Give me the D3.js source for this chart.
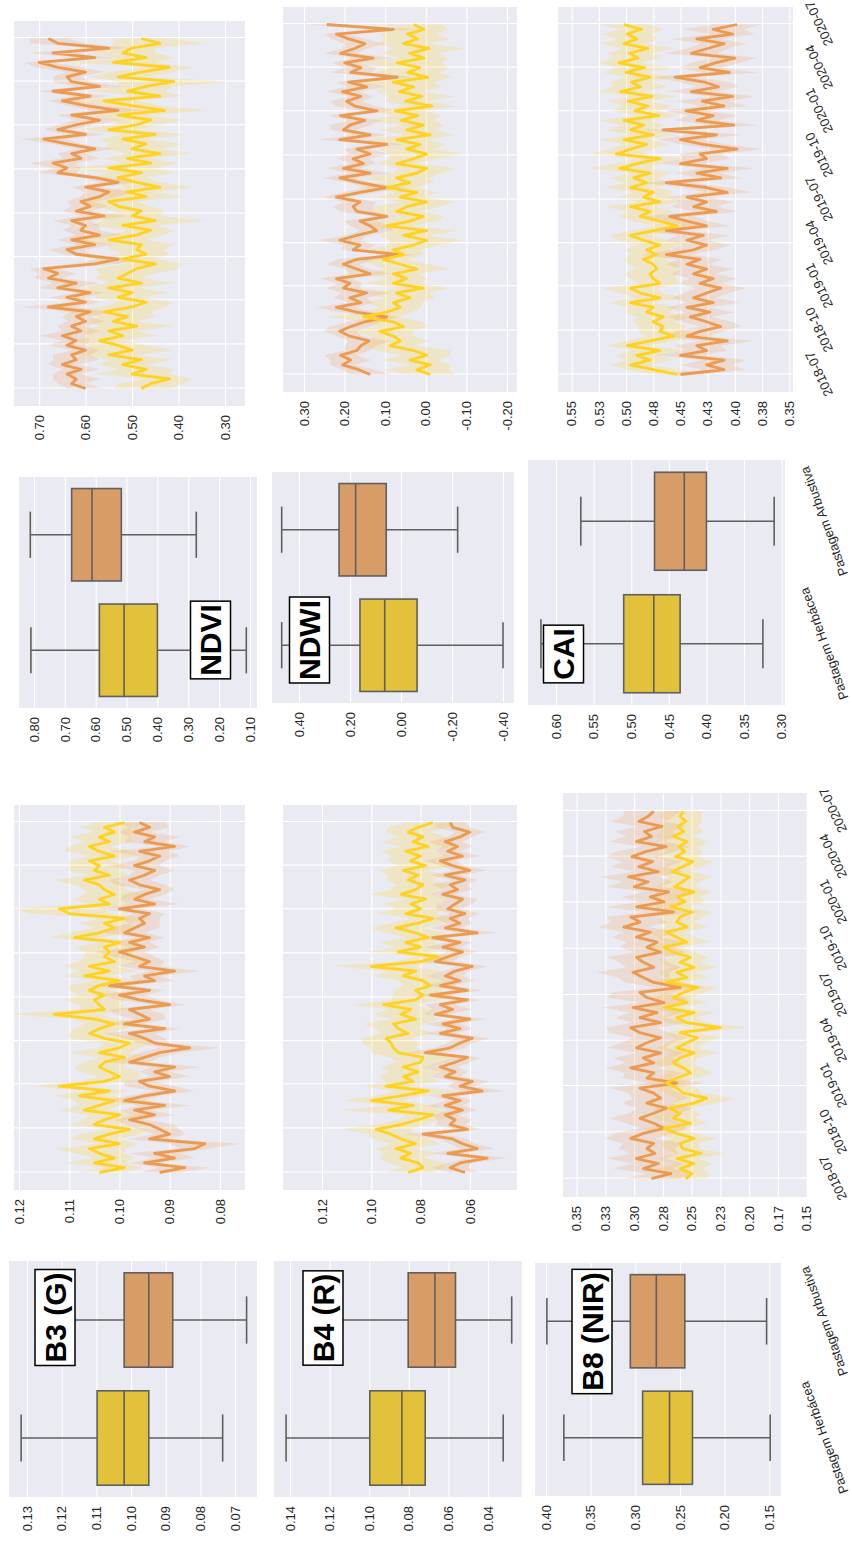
<!DOCTYPE html>
<html><head><meta charset="utf-8">
<script src="https://cdn.jsdelivr.net/npm/d3@7"></script>
<style>body{margin:0;background:#fff;}svg{display:block;}text{font-family:"Liberation Sans",Arial,Helvetica,sans-serif;}</style>
</head><body><svg id="chart" width="852" height="1543"></svg>
<script>
// ---------- DATA ----------
const categories = ["Pastagem Herbácea", "Pastagem Arbustiva"];
const seriesStart = "2018-07-01";
const seriesStepDays = 10;
const dateTicks = ["2018-07","2018-10","2019-01","2019-04","2019-07","2019-10","2020-01","2020-04","2020-07"];

// box stats: [lower whisker, Q1, median, Q3, upper whisker]
const b3BoxHerb = [0.0736, 0.0949, 0.1020, 0.1098, 0.1317];
const b3BoxArb  = [0.0667, 0.0880, 0.0949, 0.1020, 0.1170];
const b4BoxHerb = [0.0323, 0.0717, 0.0835, 0.0997, 0.1420];
const b4BoxArb  = [0.0280, 0.0564, 0.0668, 0.0803, 0.1200];
const b8BoxHerb = [0.149, 0.236, 0.2617, 0.2918, 0.380];
const b8BoxArb  = [0.153, 0.2446, 0.2765, 0.3056, 0.399];
const ndviBoxHerb = [0.112, 0.400, 0.508, 0.588, 0.810];
const ndviBoxArb  = [0.274, 0.517, 0.612, 0.678, 0.812];
const ndwiBoxHerb = [-0.400, -0.063, 0.064, 0.161, 0.468];
const ndwiBoxArb  = [-0.222, 0.058, 0.178, 0.243, 0.468];
const caiBoxHerb = [0.325, 0.435, 0.470, 0.510, 0.620];
const caiBoxArb  = [0.310, 0.400, 0.4295, 0.469, 0.567];

// time series means (Herbácea = yellow, Arbustiva = orange) and CI half-widths
const b3Herb = [0.104,0.099,0.105,0.101,0.104,0.106,0.100,0.105,0.102,0.098, 0.105,0.103,0.100,0.107,0.104,0.101,0.108,0.102,0.112,0.103, 0.100,0.102,0.104,0.103,0.099,0.104,0.100,0.098,0.103,0.106, 0.104,0.101,0.105,0.113,0.103,0.104,0.105,0.103,0.106,0.104, 0.100,0.107,0.102,0.106,0.101,0.103,0.102,0.103,0.100,0.109, 0.104,0.101,0.103,0.099,0.110,0.112,0.102,0.104,0.101,0.103, 0.104,0.107,0.102,0.105,0.104,0.106,0.101,0.104,0.106,0.102, 0.104,0.101,0.103,0.099];
const b3Arb = [0.092,0.087,0.095,0.089,0.093,0.085,0.083,0.094,0.090,0.092, 0.094,0.098,0.093,0.097,0.091,0.099,0.095,0.089,0.094,0.096, 0.090,0.093,0.089,0.098,0.095,0.092,0.086,0.093,0.095,0.098, 0.091,0.099,0.094,0.096,0.098,0.090,0.096,0.100,0.094,0.102, 0.093,0.095,0.089,0.096,0.094,0.097,0.100,0.095,0.098,0.094, 0.099,0.097,0.095,0.096,0.094,0.100,0.093,0.097,0.095,0.092, 0.096,0.098,0.095,0.093,0.097,0.094,0.092,0.096,0.089,0.095, 0.093,0.097,0.094,0.096];
const b3HerbCI = [0.005,0.004,0.006,0.004,0.005,0.007,0.004,0.005,0.006,0.004, 0.005,0.004,0.006,0.005,0.004,0.008,0.005,0.004,0.006,0.005, 0.004,0.006,0.005,0.004,0.005,0.006,0.004,0.005,0.007,0.004, 0.005,0.006,0.004,0.009,0.005,0.004,0.006,0.005,0.004,0.006, 0.005,0.004,0.006,0.005,0.007,0.004,0.005,0.006,0.004,0.005, 0.006,0.004,0.005,0.005,0.008,0.009,0.004,0.005,0.006,0.004, 0.005,0.006,0.004,0.005,0.006,0.004,0.005,0.007,0.004,0.005, 0.006,0.004,0.005,0.006];
const b3ArbCI = [0.004,0.005,0.003,0.004,0.005,0.003,0.007,0.004,0.003,0.004, 0.005,0.003,0.004,0.003,0.005,0.004,0.003,0.004,0.005,0.003, 0.004,0.003,0.005,0.004,0.003,0.004,0.006,0.003,0.004,0.005, 0.003,0.004,0.003,0.005,0.004,0.003,0.004,0.005,0.003,0.004, 0.004,0.003,0.005,0.004,0.003,0.004,0.005,0.003,0.004,0.003, 0.004,0.005,0.003,0.004,0.003,0.004,0.005,0.003,0.004,0.003, 0.005,0.004,0.003,0.004,0.005,0.003,0.004,0.006,0.003,0.004, 0.005,0.003,0.004,0.005];

const b4Herb = [0.085,0.079,0.081,0.088,0.084,0.090,0.082,0.088,0.092,0.098, 0.088,0.081,0.075,0.093,0.083,0.100,0.088,0.077,0.094,0.083, 0.087,0.081,0.087,0.080,0.079,0.089,0.091,0.092,0.094,0.085, 0.089,0.091,0.082,0.088,0.084,0.095,0.082,0.079,0.082,0.076, 0.079,0.087,0.082,0.100,0.080,0.073,0.089,0.080,0.086,0.077, 0.082,0.090,0.081,0.075,0.086,0.080,0.084,0.078,0.088,0.082, 0.079,0.085,0.081,0.087,0.078,0.084,0.080,0.086,0.077,0.083, 0.079,0.085,0.081,0.075];
const b4Arb = [0.062,0.068,0.064,0.053,0.069,0.057,0.063,0.067,0.079,0.061, 0.068,0.066,0.070,0.063,0.070,0.064,0.071,0.055,0.064,0.059, 0.070,0.066,0.072,0.066,0.061,0.078,0.068,0.064,0.059,0.072, 0.064,0.071,0.060,0.074,0.067,0.072,0.061,0.076,0.061,0.072, 0.064,0.070,0.066,0.059,0.074,0.069,0.063,0.071,0.064,0.075, 0.057,0.070,0.064,0.068,0.062,0.069,0.066,0.063,0.071,0.065, 0.068,0.062,0.070,0.060,0.067,0.072,0.063,0.069,0.065,0.070, 0.064,0.060,0.067,0.068];
const b4HerbCI = [0.010,0.008,0.012,0.009,0.011,0.008,0.010,0.012,0.009,0.014, 0.010,0.008,0.011,0.020,0.009,0.012,0.010,0.013,0.009,0.011, 0.010,0.012,0.009,0.010,0.013,0.011,0.009,0.012,0.010,0.011, 0.009,0.012,0.010,0.011,0.009,0.013,0.010,0.012,0.009,0.011, 0.010,0.012,0.011,0.016,0.010,0.009,0.012,0.010,0.011,0.009, 0.012,0.010,0.011,0.009,0.012,0.010,0.011,0.009,0.013,0.010, 0.011,0.009,0.012,0.010,0.011,0.009,0.012,0.010,0.011,0.013, 0.010,0.009,0.012,0.010];
const b4ArbCI = [0.006,0.007,0.005,0.008,0.006,0.007,0.005,0.006,0.008,0.005, 0.006,0.007,0.005,0.006,0.007,0.005,0.006,0.009,0.005,0.007, 0.006,0.005,0.007,0.006,0.005,0.008,0.006,0.005,0.007,0.006, 0.005,0.007,0.006,0.005,0.008,0.006,0.005,0.007,0.006,0.005, 0.006,0.007,0.005,0.006,0.007,0.005,0.006,0.007,0.005,0.006, 0.008,0.006,0.005,0.007,0.006,0.005,0.007,0.006,0.005,0.006, 0.007,0.005,0.006,0.007,0.005,0.006,0.007,0.005,0.006,0.007, 0.005,0.006,0.007,0.006];

const b8Herb = [0.255,0.250,0.260,0.248,0.263,0.242,0.258,0.260,0.248,0.263, 0.274,0.251,0.266,0.260,0.269,0.248,0.237,0.257,0.263,0.272, 0.263,0.251,0.257,0.266,0.260,0.248,0.263,0.254,0.245,0.260, 0.225,0.254,0.263,0.248,0.274,0.254,0.266,0.257,0.245,0.272, 0.254,0.263,0.248,0.260,0.251,0.266,0.274,0.254,0.263,0.272, 0.254,0.263,0.260,0.250,0.268,0.256,0.262,0.248,0.265,0.258, 0.252,0.267,0.258,0.249,0.264,0.256,0.261,0.254,0.266,0.257, 0.262,0.255,0.260,0.257];
const b8Arb = [0.285,0.268,0.292,0.279,0.298,0.282,0.289,0.283,0.303,0.292, 0.274,0.283,0.295,0.283,0.272,0.289,0.277,0.283,0.295,0.263, 0.289,0.283,0.303,0.283,0.292,0.277,0.298,0.289,0.277,0.295, 0.303,0.277,0.295,0.280,0.301,0.274,0.289,0.295,0.260,0.283, 0.292,0.301,0.283,0.292,0.298,0.277,0.289,0.280,0.298,0.286, 0.309,0.295,0.303,0.266,0.298,0.274,0.286,0.270,0.300,0.288, 0.305,0.279,0.296,0.284,0.302,0.290,0.272,0.298,0.285,0.291, 0.276,0.296,0.288,0.283];
const b8HerbCI = [0.018,0.015,0.020,0.016,0.018,0.022,0.015,0.017,0.020,0.016, 0.018,0.015,0.019,0.017,0.016,0.020,0.025,0.016,0.018,0.015, 0.017,0.019,0.016,0.018,0.015,0.020,0.017,0.016,0.019,0.015, 0.024,0.017,0.016,0.019,0.015,0.018,0.016,0.019,0.017,0.015, 0.018,0.016,0.020,0.017,0.015,0.018,0.016,0.019,0.017,0.016, 0.018,0.015,0.019,0.017,0.016,0.018,0.020,0.016,0.017,0.015, 0.019,0.017,0.016,0.018,0.020,0.015,0.017,0.019,0.016,0.018, 0.017,0.015,0.018,0.016];
const b8ArbCI = [0.024,0.021,0.026,0.022,0.025,0.021,0.024,0.027,0.022,0.025, 0.021,0.024,0.026,0.022,0.025,0.021,0.024,0.022,0.026,0.024, 0.021,0.025,0.022,0.024,0.026,0.021,0.025,0.022,0.024,0.026, 0.022,0.025,0.021,0.024,0.026,0.022,0.034,0.024,0.021,0.025, 0.022,0.032,0.024,0.021,0.025,0.022,0.024,0.026,0.021,0.024, 0.022,0.025,0.021,0.024,0.026,0.022,0.025,0.021,0.024,0.022, 0.025,0.021,0.024,0.026,0.022,0.025,0.021,0.024,0.022,0.025, 0.021,0.024,0.022,0.025];

const ndviHerb = [0.48,0.46,0.42,0.50,0.47,0.52,0.48,0.55,0.50,0.53, 0.57,0.52,0.55,0.49,0.54,0.51,0.56,0.50,0.47,0.53, 0.50,0.55,0.48,0.53,0.51,0.49,0.45,0.52,0.47,0.49, 0.48,0.55,0.49,0.46,0.52,0.45,0.50,0.48,0.53,0.55, 0.47,0.51,0.44,0.49,0.53,0.48,0.55,0.46,0.51,0.44, 0.50,0.47,0.52,0.45,0.55,0.49,0.46,0.53,0.43,0.50, 0.56,0.44,0.51,0.47,0.41,0.53,0.48,0.42,0.54,0.47, 0.52,0.50,0.44,0.48];
const ndviArb = [0.60,0.63,0.62,0.64,0.61,0.65,0.62,0.63,0.60,0.64, 0.62,0.65,0.61,0.63,0.60,0.62,0.59,0.68,0.60,0.64, 0.59,0.66,0.62,0.68,0.66,0.69,0.58,0.53,0.62,0.64, 0.58,0.63,0.57,0.61,0.60,0.63,0.56,0.62,0.59,0.61, 0.57,0.55,0.60,0.53,0.58,0.66,0.64,0.67,0.61,0.63, 0.58,0.64,0.69,0.60,0.66,0.62,0.57,0.63,0.53,0.60, 0.65,0.59,0.67,0.57,0.63,0.64,0.60,0.66,0.70,0.58, 0.67,0.55,0.66,0.68];
const ndviHerbCI = [0.06,0.07,0.05,0.08,0.06,0.05,0.07,0.06,0.09,0.06, 0.05,0.07,0.06,0.08,0.05,0.06,0.10,0.07,0.06,0.05, 0.08,0.06,0.07,0.05,0.06,0.09,0.06,0.07,0.05,0.06, 0.07,0.08,0.06,0.05,0.07,0.11,0.06,0.05,0.07,0.06, 0.08,0.06,0.07,0.05,0.06,0.07,0.10,0.06,0.05,0.07, 0.06,0.08,0.05,0.07,0.06,0.05,0.07,0.06,0.09,0.06, 0.07,0.05,0.08,0.06,0.12,0.06,0.07,0.05,0.09,0.06, 0.07,0.05,0.10,0.06];
const ndviArbCI = [0.04,0.03,0.05,0.03,0.04,0.03,0.05,0.04,0.03,0.04, 0.03,0.05,0.04,0.03,0.04,0.03,0.04,0.06,0.03,0.04, 0.03,0.04,0.05,0.03,0.04,0.03,0.05,0.04,0.03,0.04, 0.04,0.03,0.05,0.04,0.03,0.04,0.05,0.03,0.04,0.03, 0.04,0.05,0.03,0.04,0.03,0.04,0.03,0.05,0.04,0.03, 0.04,0.03,0.05,0.04,0.03,0.04,0.05,0.03,0.06,0.04, 0.03,0.04,0.03,0.05,0.04,0.03,0.04,0.05,0.03,0.04, 0.05,0.04,0.06,0.04];

const ndwiHerb = [-0.011,0.022,-0.011,0.039,-0.002,0.030,0.088,0.063,0.080,0.113, 0.055,0.080,0.154,0.096,0.063,0.080,0.039,0.072,0.006,0.080, 0.047,0.080,0.022,0.063,0.105,0.055,0.080,0.030,-0.002,0.055, -0.002,0.096,0.039,0.006,0.072,0.047,-0.002,0.063,0.022,0.096, 0.039,0.072,0.022,-0.002,0.072,0.030,-0.002,0.047,0.014,0.072, -0.011,0.047,0.006,0.060,0.020,0.075,-0.015,0.050,0.010,0.065, 0.030,0.080,-0.005,0.045,0.015,0.070,0.005,0.040,-0.008,0.055, 0.020,0.045,0.005,0.030];
const ndwiArb = [0.137,0.165,0.205,0.185,0.210,0.170,0.160,0.140,0.187,0.212, 0.185,0.150,0.096,0.170,0.220,0.160,0.187,0.146,0.203,0.187, 0.220,0.137,0.170,0.203,0.170,0.063,0.179,0.162,0.212,0.170, 0.121,0.137,0.162,0.096,0.170,0.179,0.162,0.220,0.162,0.096, 0.162,0.212,0.137,0.203,0.154,0.179,0.137,0.170,0.096,0.212, 0.137,0.203,0.187,0.150,0.210,0.120,0.175,0.195,0.160,0.205, 0.145,0.190,0.070,0.185,0.160,0.200,0.130,0.210,0.175,0.150, 0.190,0.220,0.080,0.244];
const ndwiHerbCI = [0.06,0.08,0.05,0.07,0.06,0.09,0.06,0.07,0.05,0.08, 0.06,0.07,0.09,0.06,0.05,0.07,0.06,0.08,0.06,0.07, 0.05,0.06,0.08,0.07,0.06,0.05,0.07,0.06,0.09,0.06, 0.08,0.06,0.07,0.05,0.06,0.08,0.07,0.06,0.05,0.07, 0.06,0.08,0.06,0.07,0.05,0.06,0.09,0.07,0.06,0.08, 0.06,0.07,0.05,0.08,0.06,0.07,0.06,0.05,0.08,0.06, 0.07,0.10,0.06,0.08,0.07,0.11,0.06,0.07,0.09,0.06, 0.08,0.07,0.06,0.07];
const ndwiArbCI = [0.05,0.04,0.03,0.05,0.04,0.03,0.04,0.05,0.03,0.04, 0.05,0.04,0.03,0.04,0.05,0.03,0.04,0.06,0.04,0.03, 0.04,0.05,0.03,0.04,0.05,0.04,0.03,0.04,0.05,0.03, 0.04,0.05,0.04,0.03,0.04,0.05,0.04,0.03,0.04,0.05, 0.03,0.04,0.05,0.04,0.03,0.04,0.05,0.03,0.04,0.05, 0.04,0.03,0.05,0.04,0.03,0.04,0.05,0.04,0.03,0.04, 0.05,0.03,0.04,0.05,0.04,0.03,0.05,0.04,0.03,0.05, 0.04,0.03,0.06,0.05];

const caiHerb = [0.453,0.475,0.496,0.478,0.490,0.469,0.499,0.478,0.456,0.469, 0.466,0.475,0.466,0.481,0.475,0.496,0.469,0.487,0.496,0.469, 0.475,0.478,0.472,0.475,0.484,0.472,0.481,0.469,0.484,0.496, 0.475,0.453,0.469,0.487,0.478,0.496,0.469,0.484,0.475,0.496, 0.481,0.493,0.478,0.506,0.490,0.469,0.509,0.496,0.481,0.502, 0.475,0.496,0.484,0.502,0.470,0.492,0.480,0.498,0.476,0.505, 0.487,0.495,0.478,0.500,0.483,0.507,0.489,0.497,0.480,0.502, 0.490,0.499,0.486,0.502];
const caiArb = [0.450,0.410,0.426,0.410,0.450,0.426,0.435,0.407,0.444,0.432, 0.413,0.426,0.441,0.423,0.444,0.420,0.438,0.426,0.413,0.432, 0.420,0.438,0.426,0.444,0.432,0.463,0.438,0.426,0.444,0.429, 0.463,0.426,0.444,0.460,0.417,0.438,0.426,0.444,0.407,0.426, 0.463,0.413,0.435,0.407,0.450,0.426,0.432,0.398,0.429,0.450, 0.417,0.466,0.401,0.435,0.420,0.445,0.410,0.430,0.402,0.440, 0.415,0.428,0.455,0.405,0.432,0.418,0.400,0.440,0.425,0.410, 0.435,0.402,0.420,0.398];
const caiHerbCI = [0.020,0.025,0.018,0.022,0.020,0.024,0.019,0.021,0.026,0.020, 0.022,0.019,0.024,0.020,0.022,0.019,0.023,0.020,0.025,0.019, 0.021,0.024,0.020,0.022,0.019,0.023,0.020,0.021,0.024,0.019, 0.022,0.020,0.025,0.019,0.021,0.023,0.020,0.022,0.019,0.024, 0.020,0.022,0.019,0.028,0.020,0.022,0.024,0.019,0.021,0.023, 0.020,0.022,0.019,0.024,0.020,0.021,0.023,0.019,0.022,0.020, 0.025,0.019,0.022,0.020,0.026,0.019,0.022,0.020,0.024,0.021, 0.019,0.023,0.020,0.022];
const caiArbCI = [0.022,0.019,0.024,0.020,0.023,0.019,0.021,0.024,0.020,0.022, 0.019,0.023,0.020,0.022,0.019,0.024,0.020,0.021,0.023,0.019, 0.022,0.020,0.024,0.019,0.021,0.023,0.020,0.022,0.019,0.024, 0.020,0.022,0.019,0.023,0.020,0.021,0.024,0.019,0.022,0.020, 0.023,0.019,0.021,0.024,0.020,0.022,0.019,0.023,0.020,0.021, 0.024,0.019,0.022,0.020,0.023,0.019,0.021,0.024,0.020,0.022, 0.019,0.023,0.020,0.025,0.019,0.022,0.020,0.024,0.019,0.021, 0.023,0.020,0.028,0.022];

// value-axis ticks and their labels
const b3BoxTicks = [0.07,0.08,0.09,0.10,0.11,0.12,0.13];
const b3BoxLabels = ["0.07","0.08","0.09","0.10","0.11","0.12","0.13"];
const b3TsTicks = [0.08,0.09,0.10,0.11,0.12];
const b3TsLabels = ["0.08","0.09","0.10","0.11","0.12"];
const ndviBoxTicks = [0.1,0.2,0.3,0.4,0.5,0.6,0.7,0.8];
const ndviBoxLabels = ["0.10","0.20","0.30","0.40","0.50","0.60","0.70","0.80"];
const ndviTsTicks = [0.3,0.4,0.5,0.6,0.7];
const ndviTsLabels = ["0.30","0.40","0.50","0.60","0.70"];
const b4BoxTicks = [0.04,0.06,0.08,0.10,0.12,0.14];
const b4BoxLabels = ["0.04","0.06","0.08","0.10","0.12","0.14"];
const b4TsTicks = [0.06,0.08,0.10,0.12];
const b4TsLabels = ["0.06","0.08","0.10","0.12"];
const ndwiBoxTicks = [-0.4,-0.2,0,0.2,0.4];
const ndwiBoxLabels = ["-0.40","-0.20","0.00","0.20","0.40"];
const ndwiTsTicks = [-0.2,-0.1,0,0.1,0.2,0.3];
const ndwiTsLabels = ["-0.20","-0.10","0.00","0.10","0.20","0.30"];
const b8BoxTicks = [0.15,0.20,0.25,0.30,0.35,0.40];
const b8BoxLabels = ["0.15","0.20","0.25","0.30","0.35","0.40"];
const b8TsTicks = [0.15,0.175,0.20,0.225,0.25,0.275,0.30,0.325,0.35];
const b8TsLabels = ["0.15","0.17","0.20","0.23","0.25","0.28","0.30","0.33","0.35"];
const caiBoxTicks = [0.30,0.35,0.40,0.45,0.50,0.55,0.60];
const caiBoxLabels = ["0.30","0.35","0.40","0.45","0.50","0.55","0.60"];
const caiTsTicks = [0.35,0.375,0.40,0.425,0.45,0.475,0.50,0.525,0.55];
const caiTsLabels = ["0.35","0.38","0.40","0.43","0.45","0.48","0.50","0.53","0.55"];

// ---------- STYLE / LAYOUT (figure drawn in landscape, then rotated) ----------
const FIG_W = 1543, FIG_H = 852;
const BG = "#EAEAF2", TXT = "#262626", BOXLINE = "#5f5f5f";
const herbLine = "#FFD21F", arbLine = "#EB9A50";
const herbBox = "#E1C23A", arbBox = "#D89C66";

const svg = d3.select("#chart");
const root = svg.append("g").attr("transform", `translate(0,${FIG_W}) rotate(-90)`);

const parseDay = d3.timeParse("%Y-%m-%d");
const parseMonth = d3.timeParse("%Y-%m");
const t0 = parseDay(seriesStart);
const nPts = b3Herb.length;
const dates = d3.range(nPts).map(i => d3.timeDay.offset(t0, i * seriesStepDays));
const tickDates = dateTicks.map(parseMonth);
const tMin = dates[0], tMax = dates[nPts - 1];
const span = tMax - tMin;
const timeDomain = [new Date(+tMin - 0.05 * span), new Date(+tMax + 0.05 * span)];

let clipId = 0;
function panelFrame(p) {
  const g = root.append("g");
  g.append("rect").attr("x", p.X0).attr("y", p.Y0).attr("width", p.X1 - p.X0).attr("height", p.Y1 - p.Y0).attr("fill", BG);
  const y = d3.scaleLinear().domain(p.dom).range([p.Y1, p.Y0]);
  const grid = g.append("g").attr("transform", `translate(${p.X0},0)`)
    .call(d3.axisLeft(y).tickValues(p.ticks).tickSize(-(p.X1 - p.X0)).tickFormat(""));
  grid.select(".domain").remove();
  grid.selectAll("line").attr("stroke", "#fff").attr("stroke-width", 1.1);
  const ax = g.append("g").attr("transform", `translate(${p.X0},0)`)
    .call(d3.axisLeft(y).tickValues(p.ticks).tickSize(0).tickPadding(9).tickFormat((d, i) => p.labels[i]));
  ax.select(".domain").remove();
  ax.selectAll("text").attr("fill", TXT).style("font-size", "13px");
  const id = "clip" + (clipId++);
  root.append("clipPath").attr("id", id).append("rect")
    .attr("x", p.X0).attr("y", p.Y0).attr("width", p.X1 - p.X0).attr("height", p.Y1 - p.Y0);
  return {g, y, id};
}

function tsPanel(p) {
  const {g, y, id} = panelFrame(p);
  const x = d3.scaleTime().domain(timeDomain).range([p.X0, p.X1]);
  const vg = g.append("g").attr("transform", `translate(0,${p.Y1})`)
    .call(d3.axisBottom(x).tickValues(tickDates).tickSize(-(p.Y1 - p.Y0)).tickFormat(""));
  vg.select(".domain").remove();
  vg.selectAll("line").attr("stroke", "#fff").attr("stroke-width", 1.1);
  const inner = g.append("g").attr("clip-path", `url(#${id})`);
  const series = [
    {v: p.herb, ci: p.herbCI, c: herbLine},
    {v: p.arb, ci: p.arbCI, c: arbLine}
  ];
  series.forEach(s => {
    const area = d3.area().x((d, i) => x(dates[i])).y0((d, i) => y(d - s.ci[i])).y1((d, i) => y(d + s.ci[i]));
    inner.append("path").datum(s.v).attr("d", area).attr("fill", s.c).attr("fill-opacity", 0.2);
  });
  [series[1], series[0]].forEach(s => {
    const line = d3.line().x((d, i) => x(dates[i])).y(d => y(d));
    inner.append("path").datum(s.v).attr("d", line).attr("fill", "none")
      .attr("stroke", s.c).attr("stroke-width", 2.8).attr("stroke-linejoin", "round");
  });
  if (p.dateLabels) {
    const ax = g.append("g").attr("transform", `translate(0,${p.Y1})`)
      .call(d3.axisBottom(x).tickValues(tickDates).tickSize(0).tickFormat(d3.timeFormat("%Y-%m")));
    ax.select(".domain").remove();
    ax.selectAll("text").attr("fill", TXT).style("font-size", "13px")
      .attr("y", 0).attr("dy", "0.35em").attr("text-anchor", "middle")
      .attr("transform", "translate(0,26) rotate(-25)");
  }
}

function boxPanel(p) {
  const {g, y} = panelFrame(p);
  const x = d3.scaleBand().domain(categories).range([p.X0, p.X1]);
  const bw = x.bandwidth() * 0.8;
  const stats = [{s: p.herb, c: herbBox}, {s: p.arb, c: arbBox}];
  stats.forEach((b, k) => {
    const cx = x(categories[k]) + x.bandwidth() / 2;
    const [lo, q1, md, q3, hi] = b.s;
    const bg = g.append("g").attr("stroke", BOXLINE).attr("stroke-width", 1.6);
    bg.append("line").attr("x1", cx).attr("x2", cx).attr("y1", y(q3)).attr("y2", y(hi));
    bg.append("line").attr("x1", cx).attr("x2", cx).attr("y1", y(q1)).attr("y2", y(lo));
    bg.append("line").attr("x1", cx - bw / 4).attr("x2", cx + bw / 4).attr("y1", y(hi)).attr("y2", y(hi));
    bg.append("line").attr("x1", cx - bw / 4).attr("x2", cx + bw / 4).attr("y1", y(lo)).attr("y2", y(lo));
    bg.append("rect").attr("x", cx - bw / 2).attr("width", bw).attr("y", y(q3)).attr("height", y(q1) - y(q3)).attr("fill", b.c);
    bg.append("line").attr("x1", cx - bw / 2).attr("x2", cx + bw / 2).attr("y1", y(md)).attr("y2", y(md));
  });
  if (p.catLabels) {
    const ax = g.append("g").attr("transform", `translate(0,${p.Y1})`)
      .call(d3.axisBottom(x).tickSize(0));
    ax.select(".domain").remove();
    ax.selectAll("text").attr("fill", TXT).style("font-size", "13px")
      .attr("y", 0).attr("dy", "0.35em").attr("text-anchor", "middle")
      .attr("transform", `translate(0,${p.catOff}) rotate(-20)`);
  }
  const tg = root.append("g");
  const t = tg.append("text").text(p.tag).attr("x", p.tagX).attr("y", p.tagY)
    .attr("text-anchor", "middle").attr("dominant-baseline", "central")
    .style("font-size", "30px").style("font-weight", "bold").attr("fill", "#000");
  const w = t.node().getComputedTextLength() + 6;
  tg.insert("rect", "text").attr("x", p.tagX - w / 2).attr("y", p.tagY - 20).attr("width", w).attr("height", 40)
    .attr("fill", "#fff").attr("stroke", "#000").attr("stroke-width", 1.5);
}

// Row 1
boxPanel({X0: 46, X1: 282, Y0: 9, Y1: 257, dom: [0.0637, 0.1352], ticks: b3BoxTicks, labels: b3BoxLabels, herb: b3BoxHerb, arb: b3BoxArb, tag: "B3 (G)", tagX: 225.5, tagY: 55});
tsPanel({X0: 353, X1: 738, Y0: 14, Y1: 245, dom: [0.075, 0.121], ticks: b3TsTicks, labels: b3TsLabels, herb: b3Herb, arb: b3Arb, herbCI: b3HerbCI, arbCI: b3ArbCI});
boxPanel({X0: 835, X1: 1066, Y0: 19, Y1: 257, dom: [0.0773, 0.8486], ticks: ndviBoxTicks, labels: ndviBoxLabels, herb: ndviBoxHerb, arb: ndviBoxArb, tag: "NDVI", tagX: 903, tagY: 210.5});
tsPanel({X0: 1137, X1: 1522, Y0: 14, Y1: 245, dom: [0.257, 0.754], ticks: ndviTsTicks, labels: ndviTsLabels, herb: ndviHerb, arb: ndviArb, herbCI: ndviHerbCI, arbCI: ndviArbCI});
// Row 2
boxPanel({X0: 46, X1: 282, Y0: 274, Y1: 522, dom: [0.0228, 0.1481], ticks: b4BoxTicks, labels: b4BoxLabels, herb: b4BoxHerb, arb: b4BoxArb, tag: "B4 (R)", tagX: 225, tagY: 323});
tsPanel({X0: 353, X1: 738, Y0: 283, Y1: 517, dom: [0.0409, 0.1358], ticks: b4TsTicks, labels: b4TsLabels, herb: b4Herb, arb: b4Arb, herbCI: b4HerbCI, arbCI: b4ArbCI});
boxPanel({X0: 840, X1: 1071, Y0: 272, Y1: 514, dom: [-0.443, 0.506], ticks: ndwiBoxTicks, labels: ndwiBoxLabels, herb: ndwiBoxHerb, arb: ndwiBoxArb, tag: "NDWI", tagX: 903, tagY: 309.5});
tsPanel({X0: 1151, X1: 1536, Y0: 283, Y1: 517, dom: [-0.2246, 0.3517], ticks: ndwiTsTicks, labels: ndwiTsLabels, herb: ndwiHerb, arb: ndwiArb, herbCI: ndwiHerbCI, arbCI: ndwiArbCI});
// Row 3
boxPanel({X0: 47, X1: 280, Y0: 535, Y1: 781, dom: [0.1369, 0.4123], ticks: b8BoxTicks, labels: b8BoxLabels, herb: b8BoxHerb, arb: b8BoxArb, tag: "B8 (NIR)", tagX: 211.5, tagY: 592, catLabels: true, catOff: 43});
tsPanel({X0: 346, X1: 750, Y0: 563, Y1: 807, dom: [0.1497, 0.3619], ticks: b8TsTicks, labels: b8TsLabels, herb: b8Herb, arb: b8Arb, herbCI: b8HerbCI, arbCI: b8ArbCI, dateLabels: true});
boxPanel({X0: 838, X1: 1083, Y0: 528, Y1: 785, dom: [0.2956, 0.6372], ticks: caiBoxTicks, labels: caiBoxLabels, herb: caiBoxHerb, arb: caiBoxArb, tag: "CAI", tagX: 889, tagY: 563.5, catLabels: true, catOff: 39});
tsPanel({X0: 1151, X1: 1536, Y0: 558, Y1: 793, dom: [0.3466, 0.5626], ticks: caiTsTicks, labels: caiTsLabels, herb: caiHerb, arb: caiArb, herbCI: caiHerbCI, arbCI: caiArbCI, dateLabels: true});
</script>
</body></html>
